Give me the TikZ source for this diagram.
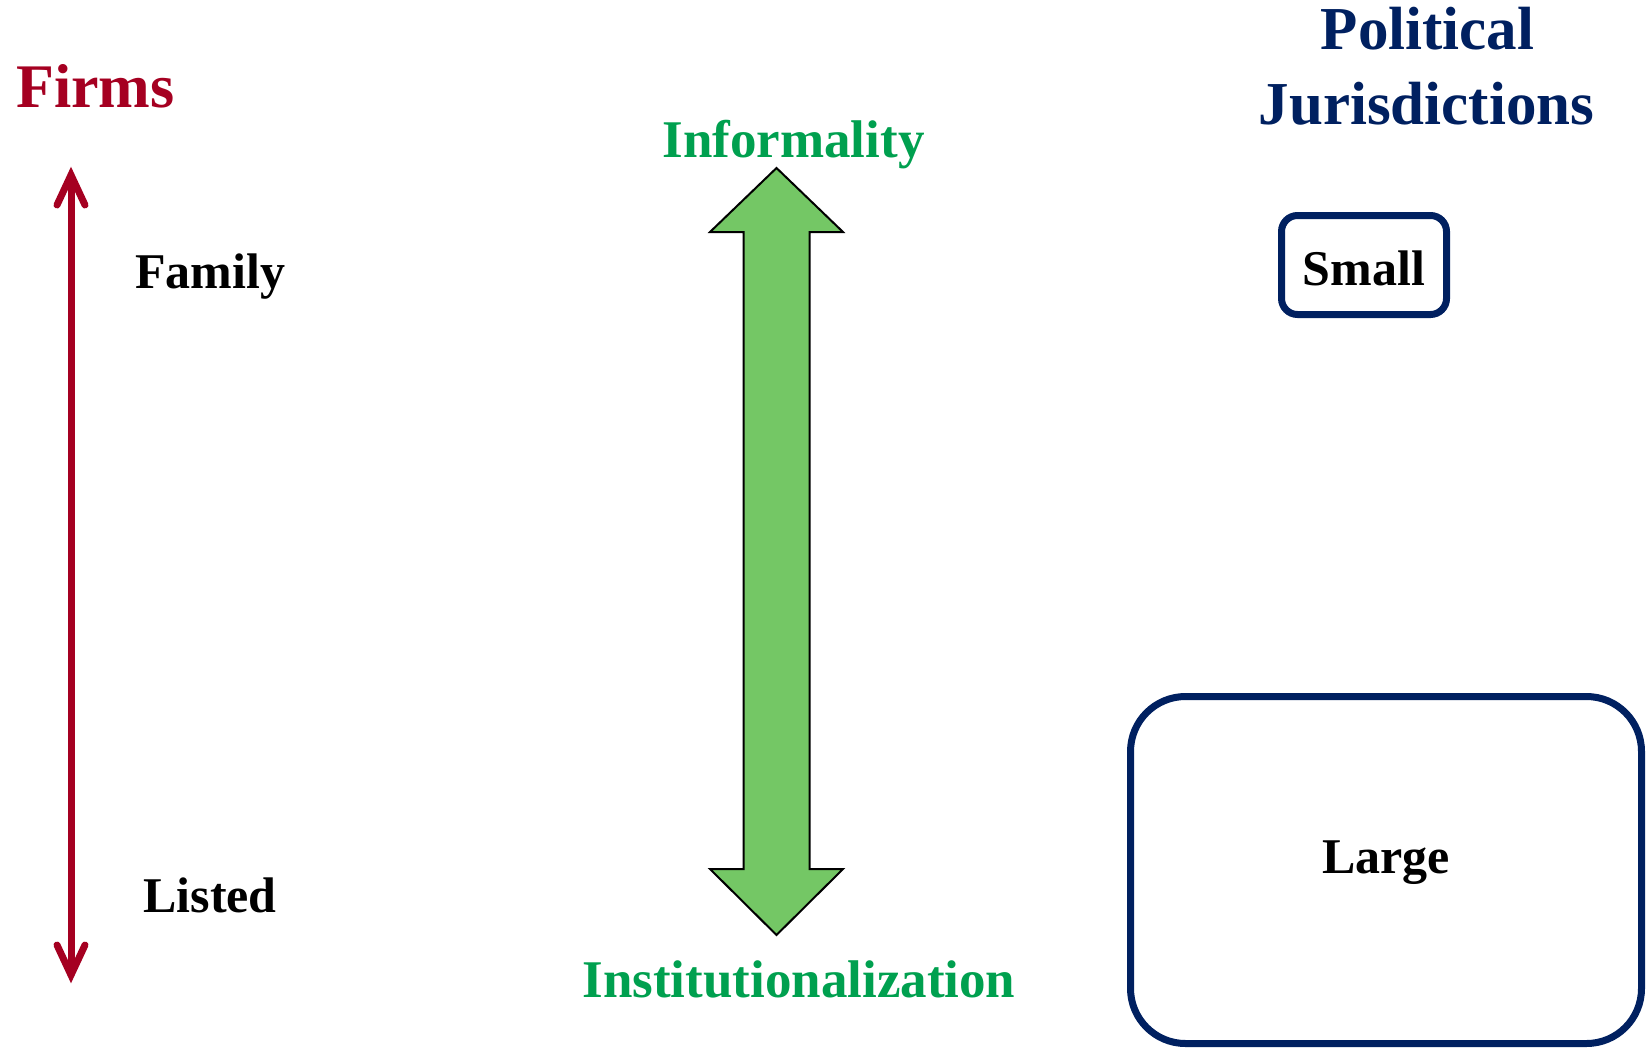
\documentclass[tikz,border=0pt]{standalone}
\usepackage{fontspec}
\setmainfont{Liberation Serif}
\usetikzlibrary{calc}
\definecolor{firmred}{HTML}{A50021}
\definecolor{navy}{HTML}{002060}
\definecolor{gtext}{HTML}{00A04F}
\definecolor{gfill}{HTML}{74C765}
\tikzset{
  lbl/.style={font=\bfseries\fontsize{50}{60}\selectfont, anchor=base, inner sep=0pt, text=black},
  glbl/.style={font=\bfseries\fontsize{53}{62}\selectfont, anchor=base, inner sep=0pt, text=gtext},
  jurbox/.style={draw=navy, line width=7pt, font=\bfseries\fontsize{50}{60}\selectfont, inner sep=0pt, text depth=0pt},
  redline/.style={draw=firmred, line width=7pt},
  navytitle/.style={anchor=base, inner sep=0pt, text=navy, font=\bfseries\fontsize{61}{70}\selectfont},
}
\begin{document}
\begin{tikzpicture}[x=1pt,y=-1pt]
\useasboundingbox (0,0) rectangle (1648,1047);
% Firms column
\node[anchor=base, inner sep=0pt, text=firmred, font=\bfseries\fontsize{62}{70}\selectfont] (firms) at (95.5,107) {Firms};
\node[lbl] (family) at (210,288) {Family};
\node[lbl] (listed) at (210,912) {Listed};
\coordinate (ftop) at (71,175);
\coordinate (fbot) at (71,975);
\draw[redline] (ftop) -- (fbot);
\draw[redline, line cap=round, line join=miter] ($(ftop)+(-14,30)$) -- (ftop) -- ($(ftop)+(14,30)$);
\draw[redline, line cap=round, line join=miter] ($(fbot)+(-14,-30)$) -- (fbot) -- ($(fbot)+(14,-30)$);
% green double arrow
\draw[fill=gfill, draw=black, line width=2pt, line join=miter]
  (776.5,168) -- (843,232) -- (809.5,232) -- (809.5,869) -- (843,869) -- (776.5,935)
  -- (710,869) -- (743.5,869) -- (743.5,232) -- (710,232) -- cycle;
\node[glbl] (inf) at (793.5,157) {Informality};
\node[glbl] (inst) at (799,997) {Institutionalization};
% Political jurisdictions
\node[navytitle] (pol) at (1427.5,49) {Political};
\node[navytitle] (jur) at (1426.5,124) {Jurisdictions};
\node[jurbox, rounded corners=16pt, minimum width=165pt, minimum height=99pt, text height=40pt] (small) at (1364,265) {Small};
\node[jurbox, rounded corners=55pt, minimum width=511pt, minimum height=347pt, text height=7pt] (large) at (1386,870) {Large};
\end{tikzpicture}
\end{document}
